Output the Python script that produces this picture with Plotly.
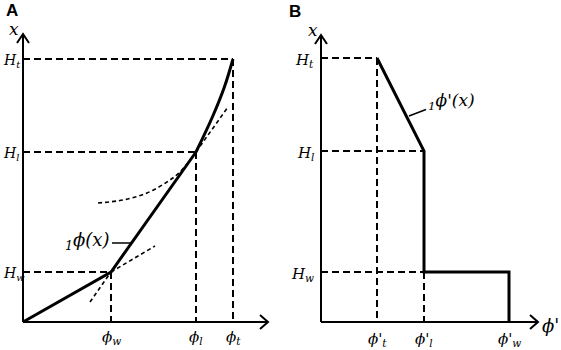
import plotly.graph_objects as go

# ---------------- Panel A data (phi along horizontal, x (height) vertical) ----------------
A_H_LEVELS = [50, 170, 263]            # H_w, H_l, H_t
A_PHI_LEVELS = [88, 173, 210]          # phi_w, phi_l, phi_t
A_H_LABELS = ["H<sub>w</sub>", "H<sub>l</sub>", "H<sub>t</sub>"]
A_PHI_LABELS = ["ϕ<sub>w</sub>", "ϕ<sub>l</sub>", "ϕ<sub>t</sub>"]

# solid profile 1phi(x): linear pieces then curved top piece
A_lin_phi = [0, 88, 173]
A_lin_h = [0, 50, 170]
A_top_phi = [173, 189.4, 201.4, 210]
A_top_h = [170, 205, 235, 263]

# dashed extensions
A_ext1_phi = [88, 132]      # segment 1 continued above H_w
A_ext1_h = [50, 76]
A_ext2_phi = [67, 88]       # segment 2 continued below H_w
A_ext2_h = [20, 50]
A_ext3_phi = [173, 205]     # segment 2 continued above H_l
A_ext3_h = [170, 215]
A_ext4_phi = [75, 100, 124, 144, 157, 173]   # curved piece continued below H_l
A_ext4_h = [119, 122, 129, 140, 150, 170]

A_AXIS_END_PHI = 245
A_AXIS_END_H = 288

# ---------------- Panel B data ----------------
B_H_LEVELS = [50, 171, 264]            # H_w, H_l, H_t
B_DPHI_LEVELS = [56, 103, 188]         # phi'_t, phi'_l, phi'_w
B_H_LABELS = ["H<sub>w</sub>", "H<sub>l</sub>", "H<sub>t</sub>"]
B_DPHI_LABELS = ["ϕ'<sub>t</sub>", "ϕ'<sub>l</sub>", "ϕ'<sub>w</sub>"]

B_AXIS_END_DPHI = 217
B_AXIS_END_H = 287

FONT = "DejaVu Serif"
BLACK = "#000000"

fig = go.Figure()


def line(xs, ys, ax, width=2, dash=None, shape="linear"):
    fig.add_trace(go.Scatter(
        x=xs, y=ys, mode="lines", xaxis=ax[0], yaxis=ax[1],
        line=dict(color=BLACK, width=width, dash=dash, shape=shape),
        hoverinfo="skip", showlegend=False))


def axes_with_arrows(ax, xend, yend):
    line([0, 0], [0, yend], ax, width=2)
    line([0, xend], [0, 0], ax, width=2)
    # open chevron heads
    line([-6, 0, 6], [yend - 9, yend, yend - 9], ax, width=2)
    line([xend - 8, xend, xend - 8], [7, 0, -7], ax, width=2)


GUIDE = dict(width=2, dash="7px,4px")
THIN = dict(width=1.6, dash="4px,3px")

# ---------------- Panel A ----------------
A = ("x", "y")
for h, p in zip(A_H_LEVELS, A_PHI_LEVELS):
    line([0, p], [h, h], A, **GUIDE)
    line([p, p], [h, 0], A, **GUIDE)
line(A_ext1_phi, A_ext1_h, A, **THIN)
line(A_ext2_phi, A_ext2_h, A, **THIN)
line(A_ext3_phi, A_ext3_h, A, **THIN)
line(A_ext4_phi, A_ext4_h, A, shape="spline", **THIN)
line(A_lin_phi, A_lin_h, A, width=3)
line(A_top_phi, A_top_h, A, width=3, shape="spline")
line([89, 108], [79, 79], A, width=1.5)
axes_with_arrows(A, A_AXIS_END_PHI, A_AXIS_END_H)

# ---------------- Panel B ----------------
B = ("x2", "y2")
Hw, Hl, Ht = B_H_LEVELS
Pt, Pl, Pw = B_DPHI_LEVELS
line([0, Pt], [Ht, Ht], B, **GUIDE)
line([0, Pl], [Hl, Hl], B, **GUIDE)
line([0, Pl], [Hw, Hw], B, **GUIDE)
line([Pt, Pt], [Ht, 0], B, **GUIDE)
line([Pl, Pl], [Hw, 0], B, **GUIDE)
line([Pt, Pl, Pl, Pw, Pw], [Ht, Hl, Hw, Hw, 0], B, width=3)
line([88, 105], [206, 212.5], B, width=1.5)
axes_with_arrows(B, B_AXIS_END_DPHI, B_AXIS_END_H)

# ---------------- Text ----------------
ann = []


def txt(x, y, s, ax, size=16, xanchor="center", family=FONT, italic=True):
    ann.append(dict(x=x, y=y, xref=ax[0], yref=ax[1], text=(f"<i>{s}</i>" if italic else s),
                    showarrow=False, xanchor=xanchor, yanchor="middle",
                    font=dict(family=family, size=size, color=BLACK)))


txt(-11, 312, "<b>A</b>", A, size=17, family="Liberation Sans", italic=False)
txt(-26, 311, "<b>B</b>", B, size=17, family="Liberation Sans", italic=False)
txt(-9, 293, "x", A, size=17)
txt(-8, 292, "x", B, size=17)
txt(258, -3, "ϕ", A, size=18)
txt(229, -3, "ϕ'", B, size=18)
for h, lab in zip(A_H_LEVELS, A_H_LABELS):
    txt(-22.5, h - 2, lab, A, size=14, xanchor="left")
for p, lab in zip(A_PHI_LEVELS, A_PHI_LABELS):
    txt(p, -15, lab, A, size=15)
for h, lab in zip(B_H_LEVELS, B_H_LABELS):
    txt(-5, h - 2, lab, B, size=15, xanchor="right")
for p, lab in zip(B_DPHI_LEVELS, B_DPHI_LABELS):
    txt(p, -17, lab, B, size=15)
txt(88, 81, "<sub>1</sub>ϕ(x)", A, size=18, xanchor="right")
txt(105, 221, "<sub>1</sub>ϕ'(x)", B, size=17, xanchor="left")

hidden = dict(visible=False, fixedrange=True)
fig.update_layout(
    width=561, height=350,
    margin=dict(l=0, r=0, t=0, b=0),
    paper_bgcolor="white", plot_bgcolor="white",
    showlegend=False,
    annotations=ann,
    xaxis=dict(domain=[0, 0.5], range=[-23, 257.5], **hidden),
    yaxis=dict(domain=[0, 1], range=[-28, 322], **hidden),
    xaxis2=dict(domain=[0.5, 1], range=[-40.5, 240], **hidden),
    yaxis2=dict(domain=[0, 1], range=[-28, 322], anchor="x2", **hidden),
)
fig.write_html("out.html", config={"displayModeBar": False},
               post_script="document.body.style.margin='0';document.body.style.overflow='hidden';")
